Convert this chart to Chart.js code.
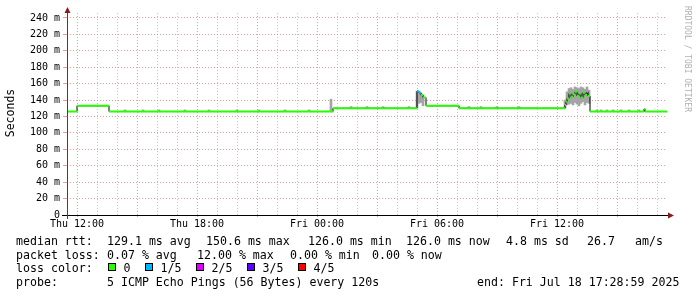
<!DOCTYPE html>
<html>
<head>
<meta charset="utf-8">
<script src="https://cdn.jsdelivr.net/npm/chart.js"></script>
<style>
body { margin: 0; background: #fff; }
canvas { display: block; }
</style>
</head>
<body>
<canvas id="myChart" width="697" height="297"></canvas>
<script>
// hours counted from Thu 00:00, graph runs Thu 11:30 -> Fri 17:30
var startHour = 11.5;
var endHour = 41.5;

// median rtt (ms), value holds from this hour until the next one
var medHours  = [11.5, 12.0, 13.6, 24.8, 29.0, 29.1, 29.2, 29.3, 29.45, 31.1,
                 36.4, 36.45, 36.5, 36.6, 36.7, 36.8, 36.9, 37.0, 37.1, 37.2,
                 37.3, 37.4, 37.5, 37.55, 37.65, 40.35, 40.4];
var medValues = [126, 133, 126, 130, 150.6, 149, 146, 143, 133, 130,
                 134, 138, 142, 148, 144, 147, 150, 145, 148, 143,
                 149, 146, 150, 145, 126, 129, 126];
// loss class of each step (0 = no loss, 1 = 1/5)
var medLoss   = [0, 0, 0, 0, 1, 1, 0, 0, 0, 0,
                 0, 0, 0, 0, 0, 0, 0, 0, 0, 0,
                 0, 0, 0, 0, 0, 0, 0];

// smoke (spread of the pings), low and high in ms
var smokeHours = [14.4, 15.3, 16.1, 17.4, 18.6, 20.0, 21.1, 22.4, 23.6, 24.7,
                  25.7, 26.5, 27.3, 28.6, 29.0, 29.1, 29.2, 29.3, 31.6, 32.2,
                  33.0, 34.1, 36.4, 36.5, 36.6, 36.7, 36.8, 36.9, 37.0, 37.1,
                  37.2, 37.3, 37.4, 37.5, 37.6, 38.0, 38.2, 38.5, 38.8, 39.2,
                  39.6, 40.1];
var smokeLow   = [126, 126, 126, 126, 126, 126, 126, 126, 126, 126,
                  130, 130, 130, 130, 131, 136, 137, 133, 130, 130,
                  130, 130, 130, 134, 135, 136, 134, 137, 135, 133,
                  136, 138, 134, 137, 136, 126, 126, 126, 126, 126,
                  126, 126];
var smokeHigh  = [128, 128, 128, 128, 128, 128, 128, 128, 128, 141,
                  132, 132, 132, 132, 151, 150, 148, 146, 132, 132,
                  132, 132, 140, 150, 154, 155, 153, 156, 155, 154,
                  156, 155, 153, 156, 152, 128, 128, 128, 128, 128,
                  128, 128];

var tickHours  = [12, 18, 24, 30, 36];
var tickLabels = ['Thu 12:00', 'Thu 18:00', 'Fri 00:00', 'Fri 06:00', 'Fri 12:00'];
var yLabelValues = [0, 20, 40, 60, 80, 100, 120, 140, 160, 180, 200, 220, 240];

var lossColors = ['#26ff00', '#00b8ff', '#dd00ff', '#5e00ff', '#ff0000'];
var lossNames  = ['0', '1/5', '2/5', '3/5', '4/5'];

var rttStats  = ['median rtt:', '129.1 ms avg', '150.6 ms max', '126.0 ms min', '126.0 ms now', '4.8 ms sd', '26.7', 'am/s'];
var lossStats = ['packet loss:', '0.07 % avg', '12.00 % max', '0.00 % min', '0.00 % now'];
var probeText = ['probe:', '5 ICMP Echo Pings (56 Bytes) every 120s', 'end: Fri Jul 18 17:28:59 2025'];

var majorGrid = 'rgba(230,120,120,0.75)';
var minorGrid = 'rgba(170,170,170,0.7)';

// horizontal runs of the median for one loss class, broken between runs
function runPoints(cls) {
    var pts = [];
    for (var i = 0; i < medHours.length; i++) {
        if (medLoss[i] != cls) continue;
        var end = (i + 1 < medHours.length) ? medHours[i + 1] : endHour;
        pts.push({ x: medHours[i], y: medValues[i] });
        pts.push({ x: end, y: medValues[i] });
        pts.push({ x: end, y: null });
    }
    return pts;
}

var stepPoints = medHours.map(function(h, i) { return { x: h, y: medValues[i] }; });
stepPoints.push({ x: endHour, y: medValues[medValues.length - 1] });

var smokeBars = smokeHours.map(function(h, i) { return { x: h, y: [smokeLow[i], smokeHigh[i]] }; });

var decorations = {
    id: 'decorations',
    afterDraw: function(chart) {
        var ctx = chart.ctx;
        ctx.save();

        // axes with arrows
        ctx.strokeStyle = '#000';
        ctx.lineWidth = 1;
        ctx.beginPath();
        ctx.moveTo(62, 215.5); ctx.lineTo(670, 215.5);
        ctx.stroke();
        ctx.strokeStyle = '#444';
        ctx.beginPath();
        ctx.moveTo(67.5, 219); ctx.lineTo(67.5, 12);
        ctx.stroke();
        ctx.fillStyle = '#8b1a1a';
        ctx.beginPath();
        ctx.moveTo(668, 212.5); ctx.lineTo(674, 215.5); ctx.lineTo(668, 218.5);
        ctx.closePath(); ctx.fill();
        ctx.beginPath();
        ctx.moveTo(64.5, 13); ctx.lineTo(67.5, 7); ctx.lineTo(70.5, 13);
        ctx.closePath(); ctx.fill();

        // axis title
        ctx.fillStyle = '#000';
        ctx.font = '11.5px "DejaVu Sans Mono"';
        ctx.textAlign = 'center';
        ctx.textBaseline = 'middle';
        ctx.save();
        ctx.translate(11, 113);
        ctx.rotate(-Math.PI / 2);
        ctx.fillText('Seconds', 0, 0);
        ctx.restore();

        // watermark
        ctx.save();
        ctx.fillStyle = '#b0b0b0';
        ctx.font = '8px "DejaVu Sans Mono"';
        ctx.translate(687, 59);
        ctx.rotate(Math.PI / 2);
        ctx.fillText('RRDTOOL / TOBI OETIKER', 0, 0);
        ctx.restore();

        // legend block
        ctx.textAlign = 'left';
        ctx.font = '11.6px "DejaVu Sans Mono"';
        ctx.fillStyle = '#000';
        var rttX = [16, 107, 206, 308, 406, 506, 587, 635];
        rttStats.forEach(function(t, i) { ctx.fillText(t, rttX[i], 241.5); });
        var lossX = [16, 107, 197, 290, 372];
        lossStats.forEach(function(t, i) { ctx.fillText(t, lossX[i], 255.5); });
        ctx.fillText('loss color:', 16, 269);
        var boxX = [108.5, 145.5, 196.5, 247.5, 298.5];
        lossNames.forEach(function(n, i) {
            ctx.fillStyle = lossColors[i];
            ctx.fillRect(boxX[i], 263.5, 7, 7);
            ctx.strokeStyle = '#000';
            ctx.strokeRect(boxX[i], 263.5, 7, 7);
            ctx.fillStyle = '#000';
            ctx.fillText(n, boxX[i] + 15, 269);
        });
        var probeX = [16, 107, 477];
        probeText.forEach(function(t, i) { ctx.fillText(t, probeX[i], 283); });

        ctx.restore();
    }
};

var ctx = document.getElementById('myChart').getContext('2d');
new Chart(ctx, {
    type: 'line',
    data: {
        datasets: [
            { data: runPoints(0), borderColor: lossColors[0], borderWidth: 2, pointRadius: 0, spanGaps: false, order: 1 },
            { data: runPoints(1), borderColor: lossColors[1], borderWidth: 2, pointRadius: 0, spanGaps: false, order: 1 },
            { data: stepPoints, borderColor: '#000', borderWidth: 1, pointRadius: 0, stepped: true, order: 2 },
            { type: 'bar', data: smokeBars, backgroundColor: '#a4a4a4', borderWidth: 0,
              barPercentage: 1, categoryPercentage: 1, grouped: false, order: 3 }
        ]
    },
    options: {
        responsive: false,
        animation: false,
        devicePixelRatio: 1,
        layout: { padding: { top: 13, right: 30, left: 0, bottom: 0 } },
        plugins: { legend: { display: false }, tooltip: { enabled: false } },
        scales: {
            x: {
                type: 'linear',
                min: startHour,
                max: endHour,
                offset: false,
                border: { display: false, dash: [1, 2] },
                afterFit: function(scale) { scale.height = 82; },
                afterBuildTicks: function(scale) {
                    var t = [];
                    for (var h = 12; h <= 41; h++) t.push({ value: h });
                    scale.ticks = t;
                },
                grid: {
                    offset: false,
                    drawTicks: true,
                    tickLength: 2,
                    color: function(c) { return c.tick.value % 3 == 0 ? majorGrid : minorGrid; },
                    tickColor: function(c) { return c.tick.value % 3 == 0 ? majorGrid : 'rgba(0,0,0,0)'; }
                },
                ticks: {
                    autoSkip: false,
                    maxRotation: 0,
                    padding: 1,
                    color: '#000',
                    font: { family: 'DejaVu Sans Mono', size: 10 },
                    callback: function(v) {
                        var i = tickHours.indexOf(v);
                        return i >= 0 ? tickLabels[i] : '';
                    }
                }
            },
            y: {
                min: 0,
                max: 246,
                border: { display: false, dash: [1, 2] },
                afterFit: function(scale) { scale.width = 67; },
                afterBuildTicks: function(scale) {
                    var t = [];
                    for (var v = 0; v <= 240; v += 10) t.push({ value: v });
                    scale.ticks = t;
                },
                grid: {
                    drawTicks: true,
                    tickLength: 4,
                    color: function(c) { return c.tick.value % 20 == 0 ? majorGrid : minorGrid; },
                    tickColor: function(c) { return c.tick.value % 20 == 0 ? majorGrid : 'rgba(0,0,0,0)'; }
                },
                ticks: {
                    padding: 3,
                    color: '#000',
                    font: { family: 'DejaVu Sans Mono', size: 10 },
                    callback: function(v) {
                        if (yLabelValues.indexOf(v) < 0) return '';
                        return v == 0 ? '0' : v + ' m';
                    }
                }
            }
        }
    },
    plugins: [decorations]
});
</script>
</body>
</html>
